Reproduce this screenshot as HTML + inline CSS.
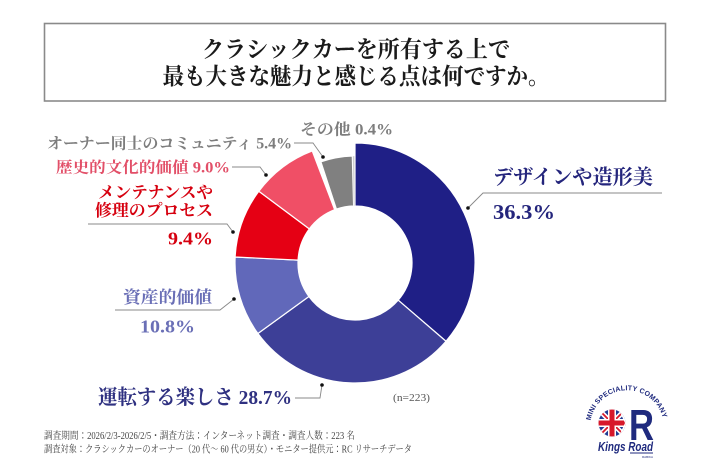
<!DOCTYPE html>
<html lang="ja">
<head>
<meta charset="utf-8">
<style>
  html,body{margin:0;padding:0;background:#fff;}
  svg{display:block;}
  .serif{font-family:"Liberation Serif","Noto Serif CJK SC",serif;font-weight:bold;}
</style>
</head>
<body>
<svg width="710" height="474" viewBox="0 0 710 474" xmlns="http://www.w3.org/2000/svg">
  <rect x="0" y="0" width="710" height="474" fill="#ffffff"/>

  <!-- Title box -->
  <rect x="44.5" y="23.5" width="621" height="77.5" fill="#fff" stroke="#8a8a8a" stroke-width="1.6"/>
  <text class="serif" x="356" y="57" font-size="23" fill="#1a1a1a" text-anchor="middle" textLength="308" lengthAdjust="spacingAndGlyphs">クラシックカーを所有する上で</text>
  <text class="serif" x="356" y="84" font-size="23" fill="#1a1a1a" text-anchor="middle" textLength="387" lengthAdjust="spacingAndGlyphs">最も大きな魅力と感じる点は何ですか。</text>

  <!-- Donut -->
  <g stroke="#ffffff" stroke-width="1.2" stroke-linejoin="round">
    <path d="M355,143 A120,120 0 0 1 445.98,341.25 L398.22,300.17 A57,57 0 0 0 355,206 Z" fill="#1f1f86"/>
    <path d="M445.98,341.25 A120,120 0 0 1 257.92,333.54 L308.89,296.50 A57,57 0 0 0 398.22,300.17 Z" fill="#3d3f97"/>
    <path d="M257.92,333.54 A120,120 0 0 1 235.15,256.99 L298.07,260.15 A57,57 0 0 0 308.89,296.50 Z" fill="#6168ba"/>
    <path d="M235.15,256.99 A120,120 0 0 1 258.83,191.23 L309.32,228.91 A57,57 0 0 0 298.07,260.15 Z" fill="#e50014"/>
    <path d="M258.83,191.23 A120,120 0 0 1 312.21,150.88 L334.67,209.74 A57,57 0 0 0 309.32,228.91 Z" fill="#f04f66"/>
    <path d="M320.9,161.8 A107,107 0 0 1 352.3,156.0 L353.6,206.0 A57,57 0 0 0 336.4,209.1 Z" fill="#808080"/>
    <path d="M352.6,156.0 A107,107 0 0 1 354.6,156.0 L354.7,206.0 A57,57 0 0 0 353.6,206.0 Z" fill="#cfcfcf" stroke-width="0.4"/>
  </g>

  <!-- Leader lines -->
  <g fill="none" stroke="#888" stroke-width="0.9">
    <polyline points="294,143 313,143 323,157"/>
    <polyline points="232,167 260,167 266,175"/>
    <polyline points="88,224 227,224 233,232"/>
    <polyline points="115,310 220,310 234,299"/>
    <polyline points="295,398 320,398 322,385"/>
    <polyline points="662,193 483,193 468,208"/>
  </g>
  <g fill="#111">
    <circle cx="323" cy="157" r="1.8"/>
    <circle cx="266" cy="175" r="1.8"/>
    <circle cx="233" cy="232" r="1.8"/>
    <circle cx="234" cy="299" r="1.8"/>
    <circle cx="322" cy="385" r="1.8"/>
    <circle cx="468" cy="208" r="1.8"/>
  </g>

  <!-- Labels -->
  <text class="serif" x="47" y="148.5" font-size="15.5" fill="#7d7d7d" textLength="245" lengthAdjust="spacingAndGlyphs">オーナー同士のコミュニティ 5.4%</text>
  <text class="serif" x="300" y="134.5" font-size="15.5" fill="#7d7d7d" textLength="93" lengthAdjust="spacingAndGlyphs">その他  0.4%</text>
  <text class="serif" x="56" y="172.5" font-size="15.5" fill="#e24f68" textLength="174" lengthAdjust="spacingAndGlyphs">歴史的文化的価値  9.0%</text>

  <text class="serif" x="213" y="198" font-size="16.5" fill="#d6000f" text-anchor="end" textLength="115" lengthAdjust="spacingAndGlyphs">メンテナンスや</text>
  <text class="serif" x="213" y="216" font-size="16.5" fill="#d6000f" text-anchor="end" textLength="118" lengthAdjust="spacingAndGlyphs">修理のプロセス</text>
  <text class="serif" x="213" y="244.5" font-size="18" fill="#d6000f" text-anchor="end" textLength="45" lengthAdjust="spacingAndGlyphs">9.4%</text>

  <text class="serif" x="123" y="303" font-size="17" fill="#6a6fb6" textLength="89" lengthAdjust="spacingAndGlyphs">資産的価値</text>
  <text class="serif" x="140" y="332.5" font-size="18" fill="#6a6fb6" textLength="55" lengthAdjust="spacingAndGlyphs">10.8%</text>

  <text class="serif" x="98" y="404" font-size="20.5" fill="#2f3181" textLength="194" lengthAdjust="spacingAndGlyphs">運転する楽しさ 28.7%</text>

  <text class="serif" x="493" y="184" font-size="20.5" fill="#24257c" textLength="160" lengthAdjust="spacingAndGlyphs">デザインや造形美</text>
  <text class="serif" x="493" y="219" font-size="21" fill="#24257c" textLength="62" lengthAdjust="spacingAndGlyphs">36.3%</text>

  <text x="393" y="401" font-size="11" fill="#555" font-family="Liberation Serif, serif" textLength="37" lengthAdjust="spacingAndGlyphs">(n=223)</text>

  <!-- Footer -->
  <text x="44" y="439" font-size="10" fill="#444" font-family="Liberation Serif, 'Noto Serif CJK SC', serif" textLength="311" lengthAdjust="spacingAndGlyphs">調査期間：2026/2/3-2026/2/5・調査方法：インターネット調査・調査人数：223 名</text>
  <text x="44" y="452.5" font-size="10" fill="#444" font-family="Liberation Serif, 'Noto Serif CJK SC', serif" textLength="368" lengthAdjust="spacingAndGlyphs">調査対象：クラシックカーのオーナー（20 代～ 60 代の男女）・モニター提供元：RC リサーチデータ</text>

  <!-- Logo -->
  <defs>
    <path id="arc" d="M590.6,420.6 A37,37 0 0 1 663.4,420.6"/>
    <clipPath id="flagclip"><circle cx="612" cy="423" r="13.5"/></clipPath>
  </defs>
  <text font-family="Liberation Sans, sans-serif" font-weight="bold" font-size="7" fill="#1f2a7e">
    <textPath href="#arc" textLength="100" lengthAdjust="spacing">MINI SPECIALITY COMPANY</textPath>
  </text>
  <g clip-path="url(#flagclip)">
    <rect x="597" y="408" width="30" height="30" fill="#1f3a93"/>
    <line x1="597" y1="408" x2="627" y2="438" stroke="#fff" stroke-width="5"/>
    <line x1="627" y1="408" x2="597" y2="438" stroke="#fff" stroke-width="5"/>
    <line x1="597" y1="408" x2="627" y2="438" stroke="#d7182a" stroke-width="1.8"/>
    <line x1="627" y1="408" x2="597" y2="438" stroke="#d7182a" stroke-width="1.8"/>
    <rect x="597" y="419" width="30" height="8" fill="#fff"/>
    <rect x="608" y="408" width="8" height="30" fill="#fff"/>
    <rect x="597" y="420.5" width="30" height="5" fill="#d7182a"/>
    <rect x="609.5" y="408" width="5" height="30" fill="#d7182a"/>
    <polygon points="618,408 628,408 628,438 618,438 625,423" fill="#fff"/>
  </g>
  <text x="629" y="440" font-family="Liberation Sans, sans-serif" font-weight="bold" font-size="44" fill="#1f2a7e" textLength="25" lengthAdjust="spacingAndGlyphs">R</text>
  <text x="598" y="451" font-family="Liberation Sans, sans-serif" font-weight="bold" font-style="italic" font-size="13" fill="#1f2a7e" textLength="55" lengthAdjust="spacingAndGlyphs">Kings Road</text>
  <line x1="630" y1="453" x2="653" y2="453" stroke="#1f2a7e" stroke-width="1"/>
  <text x="642" y="458" font-family="Liberation Sans, sans-serif" font-size="3" fill="#1f2a7e">RABIKA</text>
</svg>
</body>
</html>
